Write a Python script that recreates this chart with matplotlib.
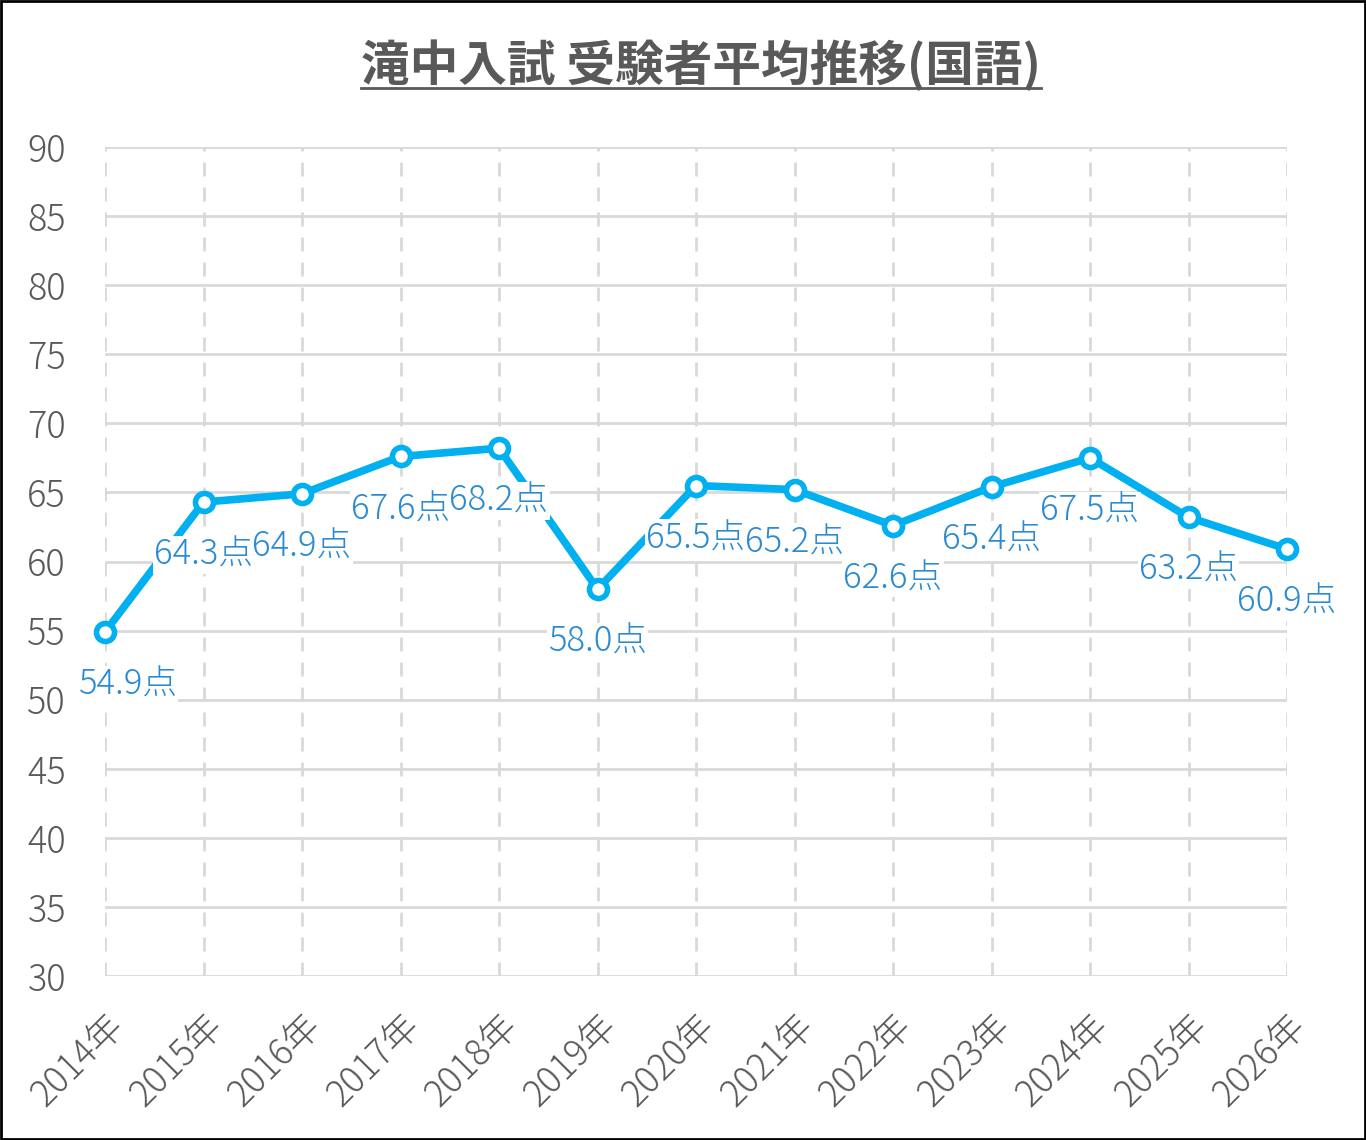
import matplotlib
matplotlib.use("Agg")
import matplotlib.pyplot as plt
from matplotlib.patches import Rectangle
from matplotlib.lines import Line2D

plt.rcParams['font.family'] = ['Noto Sans CJK JP', 'DejaVu Sans']

# データ
years = ['2014年', '2015年', '2016年', '2017年', '2018年', '2019年', '2020年',
         '2021年', '2022年', '2023年', '2024年', '2025年', '2026年']
scores = [54.9, 64.3, 64.9, 67.6, 68.2, 58.0, 65.5, 65.2, 62.6, 65.4, 67.5, 63.2, 60.9]
yticks = list(range(30, 95, 5))

line_c = '#00B0F0'
label_c = '#2A8AD2'
text_c = '#595959'
grid_c = '#D9D9D9'

fig = plt.figure(figsize=(13.66, 11.40), dpi=100)
ax = fig.add_axes([105/1366, 1-976/1140, (1287-105)/1366, (976-147)/1140])

x = list(range(len(years)))
ax.plot(x, scores, color=line_c, lw=5.5, marker='o', ms=13, mfc='white',
        mec=line_c, mew=4, zorder=3, clip_on=False)

# データラベル
for i, v in enumerate(scores):
    dx = 16 if i == 0 else 0
    ax.annotate(f'{v:.1f}点', (i, v), xytext=(dx, -38), textcoords='offset points',
                ha='center', va='center', fontsize=25, fontweight='light', color=label_c,
                zorder=4, bbox=dict(boxstyle='square,pad=0.03', fc='white', ec='none'))

ax.set_xlim(0, len(years) - 1)
ax.set_ylim(30, 90)
ax.set_yticks(yticks)
ax.set_xticks(x)
ax.set_xticklabels(years, rotation=45, ha='right', rotation_mode='anchor')
ax.tick_params(axis='y', length=0, pad=28, labelsize=26, labelcolor=text_c)
ax.tick_params(axis='x', length=0, pad=22, labelsize=26, labelcolor=text_c)
for lb in ax.get_xticklabels() + ax.get_yticklabels():
    lb.set_fontweight('light')

ax.grid(axis='y', color=grid_c, lw=2, ls='-', zorder=0)
ax.grid(axis='x', color=grid_c, lw=2, ls=(0, (5, 4)), zorder=0)
for s in ax.spines.values():
    s.set_visible(False)

# タイトル(下線付き)
title = fig.text(701/1366, 1-65/1140, '滝中入試 受験者平均推移(国語)', ha='center', va='center',
                 fontsize=35, fontweight='bold', color=text_c)
fig.canvas.draw()
bb = title.get_window_extent().transformed(fig.transFigure.inverted())
fig.add_artist(Line2D([bb.x0, bb.x1], [bb.y0 + 0.002, bb.y0 + 0.002],
                      color=text_c, lw=2, transform=fig.transFigure))

# 外枠
fig.add_artist(Rectangle((0.001, 0.001), 0.998, 0.998, transform=fig.transFigure,
                         fill=False, ec='black', lw=2))

fig.savefig('out.png', dpi=100)
